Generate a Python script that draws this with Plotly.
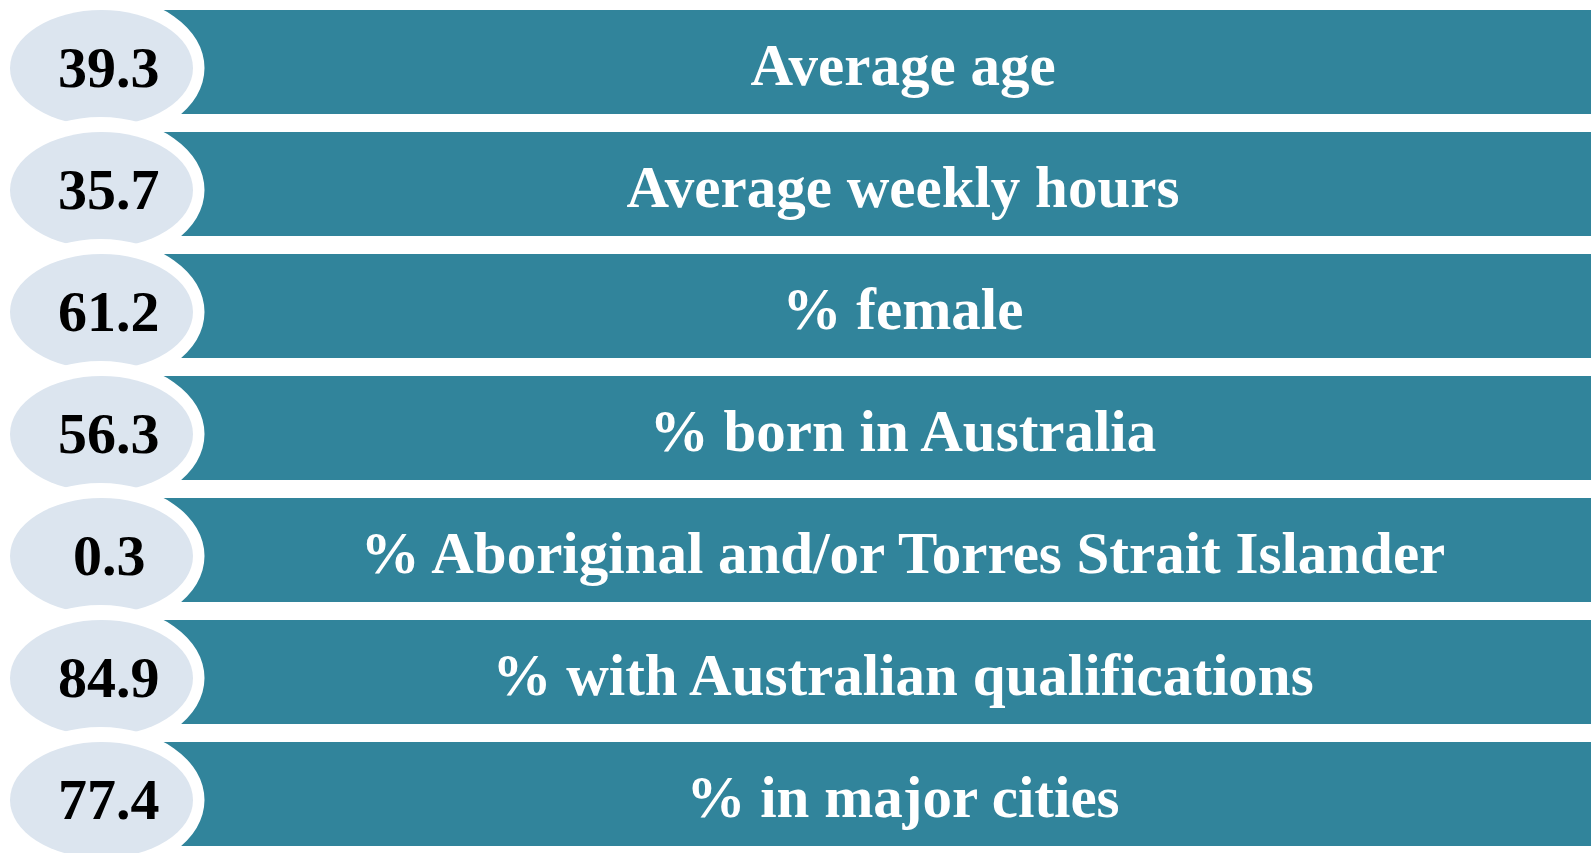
import plotly.graph_objects as go

labels = [
    "Average age",
    "Average weekly hours",
    "% female",
    "% born in Australia",
    "% Aboriginal and/or Torres Strait Islander",
    "% with Australian qualifications",
    "% in major cities",
]
values = ["39.3", "35.7", "61.2", "56.3", "0.3", "84.9", "77.4"]

W, H = 1591, 853
TEAL = "#31849B"
LIGHT = "#DCE5EF"
rows = list(range(len(labels)))
PX = 122.0  # pixels per row unit

fig = go.Figure()
fig.add_trace(go.Bar(
    y=rows, x=[1650 - 160] * len(rows), base=[160] * len(rows),
    orientation="h", width=104 / PX,
    marker=dict(color=TEAL, line=dict(width=0)),
    hoverinfo="skip", showlegend=False,
))
fig.add_trace(go.Scatter(
    y=[r + 8 / PX for r in rows], x=[903] * len(rows), mode="text", text=labels,
    textposition="middle center",
    textfont=dict(family="Liberation Serif", size=59, color="white", weight="bold"),
    hoverinfo="skip", showlegend=False,
))

shapes = []
annotations = []
for i, v in enumerate(values):
    cy = i + 6 / PX
    # white outline ellipse
    shapes.append(dict(type="circle", xref="x", yref="y", layer="above",
                       x0=101.5 - 105, x1=101.5 + 103,
                       y0=cy - 73 / PX, y1=cy + 73 / PX,
                       fillcolor="white", line=dict(width=0)))
    shapes.append(dict(type="circle", xref="x", yref="y", layer="above",
                       x0=101.5 - 91.5, x1=101.5 + 91.5,
                       y0=cy - 58 / PX, y1=cy + 58 / PX,
                       fillcolor=LIGHT, line=dict(width=0)))
    annotations.append(dict(x=109, y=i + 5 / PX, xref="x", yref="y", text=v,
                            showarrow=False, xanchor="center", yanchor="middle",
                            font=dict(family="Liberation Serif", size=58,
                                      color="black", weight="bold")))

fig.update_layout(
    width=W, height=H, margin=dict(l=0, r=0, t=0, b=0),
    paper_bgcolor="white", plot_bgcolor="white",
    shapes=shapes, annotations=annotations,
    xaxis=dict(range=[0, W], visible=False, fixedrange=True),
    yaxis=dict(range=[(H - 62) / PX, -62 / PX], visible=False, fixedrange=True),
    showlegend=False, bargap=0,
)
fig.write_html("out.html", config={"displayModeBar": False},
               post_script="document.body.style.margin='0';document.body.style.overflow='hidden';")
